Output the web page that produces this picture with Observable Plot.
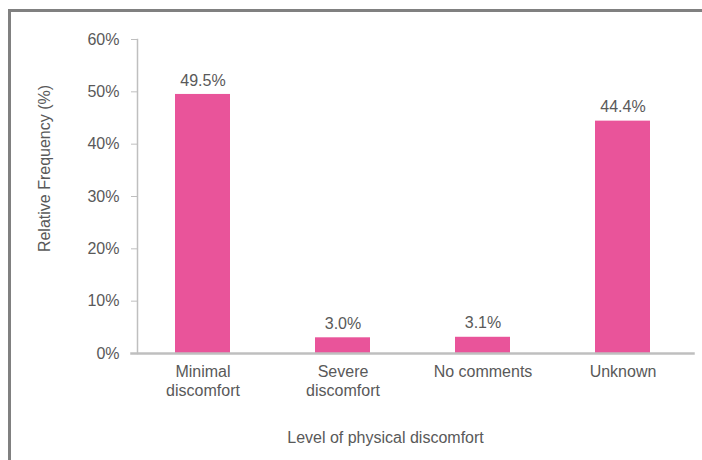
<!DOCTYPE html>
<html>
<head>
<meta charset="utf-8">
<script src="https://cdn.jsdelivr.net/npm/d3@7"></script>
<script src="https://cdn.jsdelivr.net/npm/@observablehq/plot@0.6"></script>
<style>
  html, body { margin: 0; padding: 0; background: #fff; }
  #wrap { position: relative; width: 702px; height: 460px; overflow: hidden; }
  #frame { position: absolute; left: 8px; top: 9px; width: 720px; height: 480px;
           border-top: 3px solid #808080; border-left: 3px solid #808080; box-sizing: border-box; }
  #chart { position: absolute; left: 0; top: 0; }
  #chart svg { font-family: "Liberation Sans", Arial, sans-serif; }
</style>
</head>
<body>
<div id="wrap"><div id="frame"></div><div id="chart"></div></div>
<script>
const categories = ["Minimal\ndiscomfort", "Severe\ndiscomfort", "No comments", "Unknown"];
const values = [49.5, 3.0, 3.1, 44.4];
const valueLabels = ["49.5%", "3.0%", "3.1%", "44.4%"];
const yTicks = [0, 10, 20, 30, 40, 50, 60];
const xTitle = "Level of physical discomfort";
const yTitle = "Relative Frequency (%)";

const data = categories.map((c, i) => ({cat: c, v: values[i], lab: valueLabels[i]}));
const textColor = "#595959";
const axisColor = "#bfbfbf";
const fs = 16;

const chart = Plot.plot({
  width: 702,
  height: 460,
  marginLeft: 131,
  marginRight: 9,
  marginTop: 39,
  marginBottom: 107,
  style: {fontSize: fs + "px", color: textColor, background: "transparent"},
  x: {domain: categories, paddingInner: 0.61, paddingOuter: 0.305},
  y: {domain: [0, 60]},
  marks: [
    Plot.barY(data, {x: "cat", y: "v", fill: "#E9549A"}),
    Plot.axisY({ticks: yTicks, tickFormat: d => d + "%", tickSize: 6, tickPadding: 12, dx: 6,
                stroke: axisColor, fill: textColor, fontSize: fs, label: null}),
    Plot.frame({anchor: "left", dx: 6, stroke: axisColor, strokeWidth: 1.5}),
    Plot.frame({anchor: "bottom", stroke: axisColor, strokeWidth: 2.5}),
    Plot.axisX({tickSize: 0, tickPadding: 10, lineHeight: 1.2, fill: textColor, fontSize: fs, label: null}),
    Plot.text(data, {x: "cat", y: "v", text: "lab", dy: -14, fill: textColor, fontSize: fs}),
    Plot.text([xTitle], {frameAnchor: "bottom", textAnchor: "middle", dx: -27, dy: 89, fill: textColor, fontSize: fs}),
    Plot.text([yTitle], {frameAnchor: "left", textAnchor: "middle", rotate: -90, dx: -87, dy: -28, fill: textColor, fontSize: fs})
  ]
});
document.getElementById("chart").appendChild(chart);
</script>
</body>
</html>
